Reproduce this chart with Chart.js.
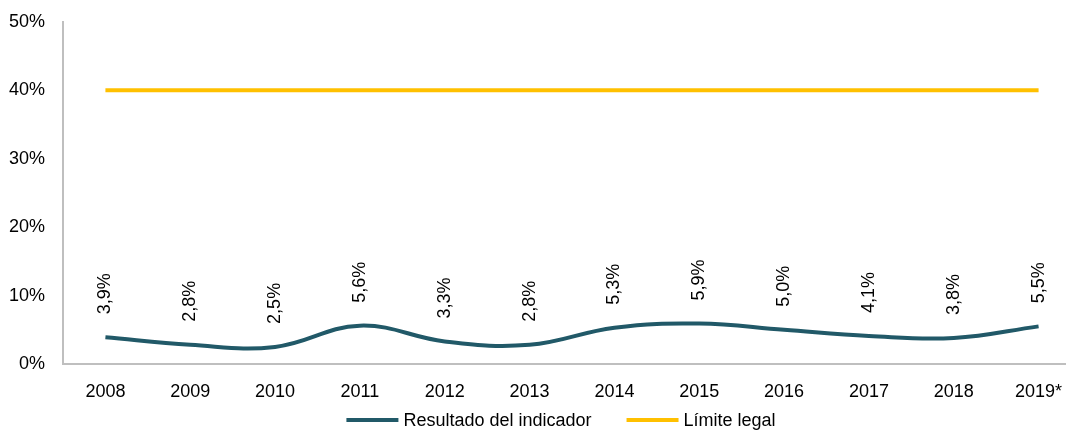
<!DOCTYPE html>
<html>
<head>
<meta charset="utf-8">
<script src="https://cdn.jsdelivr.net/npm/chart.js@4.4.0/dist/chart.umd.min.js"></script>
<style>
  html, body { margin: 0; padding: 0; background: #fff; }
  #wrap { width: 1066px; height: 431px; overflow: hidden; }
  #box { width: 1082px; height: 438px; margin-top: -7px; }
</style>
</head>
<body>
<div id="wrap"><div id="box"><canvas id="grafico"></canvas></div></div>
<script>
// Datos del gráfico
const anios = ["2008", "2009", "2010", "2011", "2012", "2013", "2014", "2015", "2016", "2017", "2018", "2019*"];
const resultado = [3.9, 2.8, 2.5, 5.6, 3.3, 2.8, 5.3, 5.9, 5.0, 4.1, 3.8, 5.5];
const limiteLegal = [40, 40, 40, 40, 40, 40, 40, 40, 40, 40, 40, 40];
const ticksY = [0, 10, 20, 30, 40, 50];

const fuente = "'Liberation Sans', Arial, sans-serif";
Chart.defaults.font.family = fuente;
Chart.defaults.font.size = 18;
Chart.defaults.color = "#000";

// Etiquetas de datos giradas sobre la línea
const etiquetas = {
    id: "etiquetas",
    afterDatasetsDraw(chart) {
        const ctx = chart.ctx;
        const meta = chart.getDatasetMeta(0);
        ctx.save();
        ctx.font = "18px " + fuente;
        ctx.fillStyle = "#000";
        ctx.textAlign = "left";
        ctx.textBaseline = "middle";
        meta.data.forEach(function(p, i) {
            const txt = resultado[i].toFixed(1).replace(".", ",") + "%";
            ctx.save();
            ctx.translate(p.x, p.y - 23);
            ctx.rotate(-Math.PI / 2);
            ctx.fillText(txt, 0, 0);
            ctx.restore();
        });
        ctx.restore();
    }
};

// Leyenda propia abajo, con más separación entre elementos
const leyenda = {
    id: "leyenda",
    afterDraw(chart) {
        const ctx = chart.ctx;
        const ds = chart.data.datasets;
        const largo = 52, sep = 5, hueco = 35, y = 427;
        ctx.save();
        ctx.font = "18px " + fuente;
        let total = 0;
        ds.forEach(function(d, i) {
            total += largo + sep + ctx.measureText(d.label).width + (i ? hueco : 0);
        });
        let x = 561 - total / 2;
        ctx.textAlign = "left";
        ctx.textBaseline = "middle";
        ds.forEach(function(d) {
            ctx.strokeStyle = d.borderColor;
            ctx.lineWidth = 4;
            ctx.beginPath();
            ctx.moveTo(x, y);
            ctx.lineTo(x + largo, y);
            ctx.stroke();
            ctx.fillStyle = "#000";
            ctx.fillText(d.label, x + largo + sep, y + 1);
            x += largo + sep + ctx.measureText(d.label).width + hueco;
        });
        ctx.restore();
    }
};

new Chart(document.getElementById("grafico"), {
    type: "line",
    data: {
        labels: anios,
        datasets: [{
            label: "Resultado del indicador",
            data: resultado,
            borderColor: "#215968",
            backgroundColor: "#215968",
            borderWidth: 4,
            pointRadius: 0,
            tension: 0.4
        }, {
            label: "Límite legal",
            data: limiteLegal,
            borderColor: "#FFC000",
            backgroundColor: "#FFC000",
            borderWidth: 4,
            pointRadius: 0
        }]
    },
    options: {
        responsive: true,
        maintainAspectRatio: false,
        animation: false,
        layout: { padding: { top: 0, right: 1, left: 0, bottom: 25 } },
        plugins: {
            legend: { display: false },
            tooltip: { enabled: false }
        },
        scales: {
            x: {
                offset: true,
                grid: { display: false, drawTicks: false },
                border: { color: "#BFBFBF", width: 2 },
                ticks: { padding: 17, maxRotation: 0 },
                afterFit(s) { s.height = 42; }
            },
            y: {
                min: 0,
                max: 50,
                grid: { display: false, drawTicks: false },
                border: { color: "#BFBFBF", width: 2 },
                afterBuildTicks(s) { s.ticks = ticksY.map(v => ({ value: v })); },
                ticks: { padding: 18, callback: v => v + "%" },
                afterFit(s) { s.width = 63; }
            }
        }
    },
    plugins: [etiquetas, leyenda]
});
</script>
</body>
</html>
